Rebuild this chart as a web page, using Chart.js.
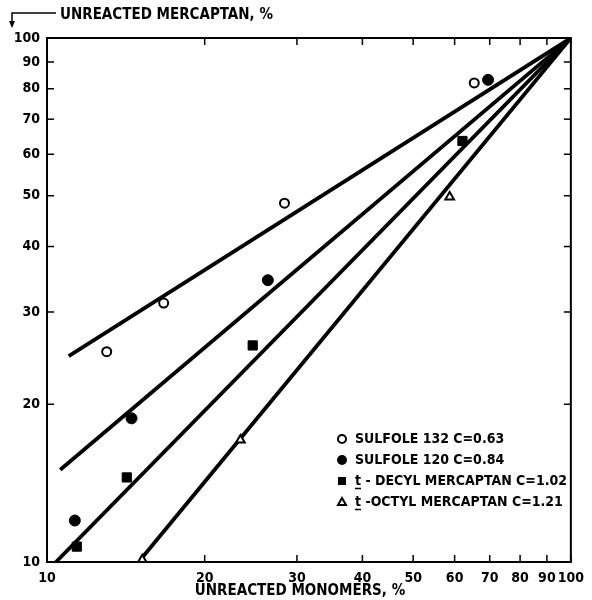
<!DOCTYPE html>
<html><head><meta charset="utf-8">
<script src="https://cdn.jsdelivr.net/npm/chart.js@4.4.1/dist/chart.umd.min.js"></script>
<style>html,body{margin:0;padding:0;background:#fff;}#wrap{width:592px;height:600px;position:relative;}</style>
</head><body><div id="wrap"><canvas id="c" width="592" height="600"></canvas></div>
<script>
const xTicks = [10,20,30,40,50,60,70,80,90,100];
const yTicks = [10,20,30,40,50,60,70,80,90,100];
const sulfole132 = [{x:13.0,y:25.2},{x:16.7,y:31.2},{x:28.4,y:48.4},{x:65.4,y:82.1}];
const sulfole120 = [{x:11.3,y:12.0},{x:14.5,y:18.8},{x:26.4,y:34.5},{x:69.5,y:83.2}];
const decyl = [{x:11.4,y:10.7},{x:14.2,y:14.5},{x:24.7,y:25.9},{x:62.1,y:63.6}];
const octyl = [{x:15.2,y:10.1},{x:23.4,y:17.1},{x:58.7,y:49.7}];
const line063 = [{x:11.0,y:24.7},{x:100,y:100}];
const line084 = [{x:10.6,y:15.0},{x:100,y:100}];
const line102 = [{x:10.4,y:10.0},{x:100,y:100}];
const line121 = [{x:15.2,y:10.2},{x:100,y:100}];
const legendLabels = ['SULFOLE 132 C=0.63','SULFOLE 120 C=0.84','t - DECYL MERCAPTAN C=1.02','t -OCTYL MERCAPTAN C=1.21'];
const yTitle = 'UNREACTED MERCAPTAN, %';
const xTitle = 'UNREACTED MONOMERS, %';

const FONT = "'DejaVu Sans Condensed','Liberation Sans Narrow',Arial,sans-serif";

function lineDs(d){return {type:'scatter',data:d,showLine:true,borderColor:'#000',borderWidth:3.8,pointRadius:0,fill:false,order:2};}
function ptDs(d,style,radius,bg,bw){return {type:'scatter',data:d,showLine:false,pointStyle:style,pointRadius:radius,pointBackgroundColor:bg,pointBorderColor:'#000',pointBorderWidth:bw,order:1};}

const frame = {
  id:'frame',
  afterDraw(chart){
    const ctx=chart.ctx, a=chart.chartArea, xs=chart.scales.x, ys=chart.scales.y;
    ctx.save();
    ctx.strokeStyle='#000'; ctx.lineWidth=2;
    ctx.strokeRect(a.left,a.top,a.right-a.left,a.bottom-a.top);
    ctx.lineWidth=1.5;
    xTicks.forEach(v=>{const p=xs.getPixelForValue(v);
      ctx.beginPath();ctx.moveTo(p,a.bottom);ctx.lineTo(p,a.bottom-7);ctx.stroke();
      ctx.beginPath();ctx.moveTo(p,a.top);ctx.lineTo(p,a.top+7);ctx.stroke();});
    yTicks.forEach(v=>{const p=ys.getPixelForValue(v);
      ctx.beginPath();ctx.moveTo(a.left,p);ctx.lineTo(a.left+7,p);ctx.stroke();
      ctx.beginPath();ctx.moveTo(a.right,p);ctx.lineTo(a.right-7,p);ctx.stroke();});
    // y title with arrow
    ctx.fillStyle='#000';
    ctx.font="bold 15px "+FONT;
    ctx.textBaseline='middle'; ctx.textAlign='left';
    ctx.fillText(yTitle,60,15);
    ctx.lineWidth=1.5;
    ctx.beginPath();ctx.moveTo(56,13);ctx.lineTo(12,13);ctx.lineTo(12,26);ctx.stroke();
    ctx.beginPath();ctx.moveTo(9,21);ctx.lineTo(12,28);ctx.lineTo(15,21);ctx.closePath();ctx.fill();
    // x title
    ctx.font="bold 15px "+FONT; ctx.textAlign='center';
    ctx.fillText(xTitle,300,591);
    // legend
    const rows=[439,460,481,502];
    const mx=342, tx=355;
    ctx.font="bold 14px "+FONT; ctx.textAlign='left';
    rows.forEach((ry,i)=>{
      ctx.lineWidth=2;
      if(i===0){ctx.beginPath();ctx.arc(mx,ry,4,0,Math.PI*2);ctx.fillStyle='#fff';ctx.fill();ctx.stroke();}
      if(i===1){ctx.beginPath();ctx.arc(mx,ry,5,0,Math.PI*2);ctx.fillStyle='#000';ctx.fill();}
      if(i===2){ctx.fillStyle='#000';ctx.fillRect(mx-4,ry-4,8,8);}
      if(i===3){ctx.beginPath();ctx.moveTo(mx,ry-4);ctx.lineTo(mx+4,ry+3);ctx.lineTo(mx-4,ry+3);ctx.closePath();ctx.fillStyle='#fff';ctx.fill();ctx.stroke();}
      ctx.fillStyle='#000';
      ctx.fillText(legendLabels[i],tx,ry);
      if(i>=2){ctx.lineWidth=1.5;ctx.beginPath();ctx.moveTo(tx,ry+7.5);ctx.lineTo(tx+6,ry+7.5);ctx.stroke();}
    });
    ctx.restore();
  }
};

new Chart(document.getElementById('c'),{
  type:'scatter',
  data:{datasets:[
    lineDs(line063),lineDs(line084),lineDs(line102),lineDs(line121),
    ptDs(sulfole132,'circle',4.5,'#fff',2),
    ptDs(sulfole120,'circle',5.5,'#000',1),
    ptDs(decyl,'rect',6.5,'#000',1),
    ptDs(octyl,'triangle',5,'#fff',2)
  ]},
  options:{
    responsive:false,animation:false,
    layout:{padding:{top:38,right:13,left:0,bottom:0}},
    plugins:{legend:{display:false},tooltip:{enabled:false},title:{display:false}},
    scales:{
      x:{type:'logarithmic',min:10,max:100,
        afterBuildTicks(s){s.ticks=xTicks.map(v=>({value:v}));},
        afterFit(s){s.height=38;},
        grid:{display:false,drawTicks:false},border:{display:false},
        ticks:{autoSkip:false,maxRotation:0,padding:8,color:'#000',font:{family:FONT,weight:'bold',size:14},callback:(v)=>String(v)}},
      y:{type:'logarithmic',min:10,max:100,
        afterBuildTicks(s){s.ticks=yTicks.map(v=>({value:v}));},
        afterFit(s){s.width=47;},
        grid:{display:false,drawTicks:false},border:{display:false},
        ticks:{autoSkip:false,padding:7,color:'#000',font:{family:FONT,weight:'bold',size:14},callback:(v)=>String(v)}}
    }
  },
  plugins:[frame]
});
</script></body></html>
